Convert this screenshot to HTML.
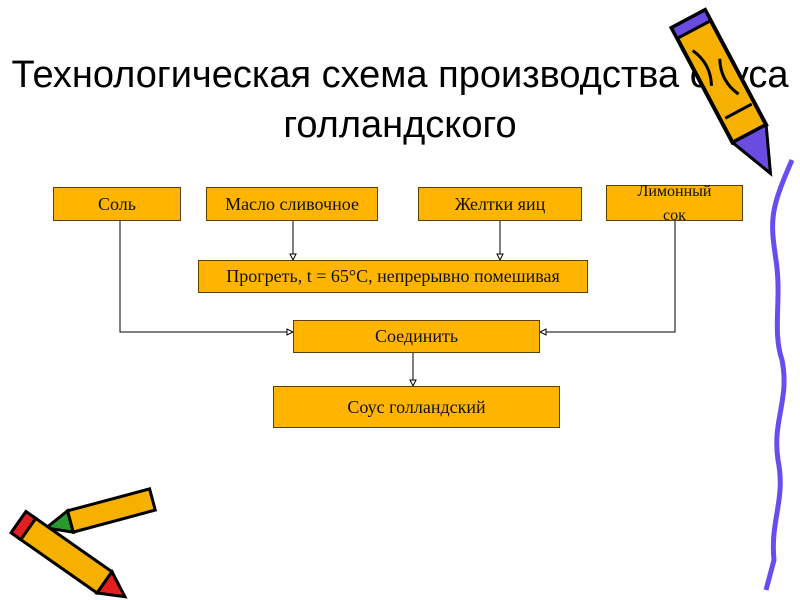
<!DOCTYPE html>
<html><head><meta charset="utf-8"><style>
body{margin:0;width:800px;height:600px;background:#fff;position:relative;overflow:hidden}
.t{position:absolute;left:-20px;width:840px;text-align:center;font-family:"Liberation Sans",sans-serif;font-size:38px;color:#000;line-height:50px;white-space:nowrap}
.b{position:absolute;background:#FFB400;border:1px solid #5a4000;box-sizing:border-box;font-family:"Liberation Serif",serif;font-size:18px;text-align:center;display:flex;align-items:center;justify-content:center;color:#111;white-space:nowrap}
svg{position:absolute;left:0;top:0}
</style></head><body>
<div class="t" style="top:50px">Технологическая схема производства соуса<br>голландского</div>
<svg width="800" height="600">
<g transform="rotate(-28 725 90)">
<rect x="707" y="10" width="38" height="130" fill="#F5B000" stroke="#000" stroke-width="4"/>
<rect x="707" y="10" width="38" height="12" fill="#6A4CE0" stroke="#000" stroke-width="3"/>
<path d="M707 140 L745 140 L726 185 Z" fill="#6A4CE0" stroke="#000" stroke-width="3"/>
<path d="M715 40 q10 20 0 40 M735 60 q-10 20 0 40 M712 115 h30" stroke="#000" stroke-width="3" fill="none"/>
</g>
<path d="M792 160 C770 210 770 220 776 260 C782 300 772 330 782 360 C790 400 772 420 778 460 C786 500 770 520 774 560 L766 590" stroke="#6A4CF0" stroke-width="5" fill="none"/>
<g transform="rotate(-15 110 515)">
<rect x="70" y="500" width="85" height="22" fill="#F5B000" stroke="#000" stroke-width="3"/>
<path d="M70 500 L45 511 L70 522 Z" fill="#2a9a30" stroke="#000" stroke-width="3"/>
</g>
<g transform="rotate(35 60 550)">
<rect x="20" y="538" width="95" height="26" fill="#F5B000" stroke="#000" stroke-width="3"/>
<rect x="10" y="538" width="12" height="26" fill="#E02020" stroke="#000" stroke-width="3"/>
<path d="M115 538 L140 551 L115 564 Z" fill="#E02020" stroke="#000" stroke-width="3"/>
</g>
<g stroke="#000" stroke-width="1" fill="none">
<path d="M120 221 V332 H290"/>
<path d="M675 221 V332 H543"/>
<path d="M293 221 V257"/>
<path d="M500 221 V257"/>
<path d="M413 353 V383"/>
</g>
<g fill="#fff" stroke="#000" stroke-width="1">
<path d="M290 254 L296 254 L293 260 Z"/>
<path d="M497 254 L503 254 L500 260 Z"/>
<path d="M410 380 L416 380 L413 386 Z"/>
<path d="M287 329 L287 335 L293 332 Z"/>
<path d="M546 329 L546 335 L540 332 Z"/>
</g>
</svg>
<div class="b" style="left:53px;top:187px;width:128px;height:34px">Соль</div>
<div class="b" style="left:206px;top:187px;width:172px;height:34px">Масло сливочное</div>
<div class="b" style="left:418px;top:187px;width:164px;height:34px">Желтки яиц</div>
<div class="b" style="left:606px;top:185px;width:137px;height:36px;line-height:24px;align-items:flex-start;font-size:16px;overflow:visible"><div style="margin-top:-6px">Лимонный<br>сок</div></div>
<div class="b" style="left:198px;top:260px;width:390px;height:33px">Прогреть, t = 65°C, непрерывно помешивая</div>
<div class="b" style="left:293px;top:320px;width:247px;height:33px">Соединить</div>
<div class="b" style="left:273px;top:386px;width:287px;height:42px">Соус голландский</div>
</body></html>
